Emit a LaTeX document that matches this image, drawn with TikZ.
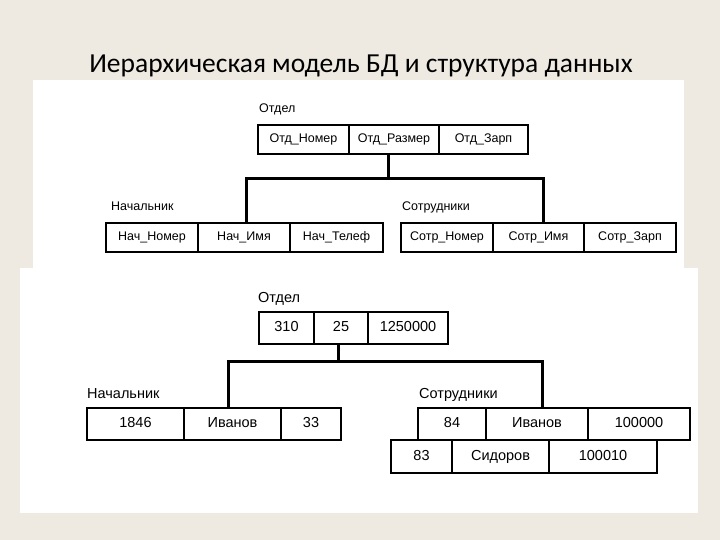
\documentclass[tikz,border=0pt]{standalone}
\usepackage{fontspec}
\setmainfont{Liberation Sans}
\newfontfamily\titlefont{Carlito}
\usetikzlibrary{positioning}
\definecolor{slidebg}{HTML}{EEEAE1}
\tikzset{
  cell/.style={draw, line width=1.6pt, outer sep=0pt, inner sep=0pt, minimum height=29, text height=9pt, text depth=2.5pt, font=\fontsize{12.5}{14}\selectfont},
  bigcell/.style={cell, minimum height=32, text height=10.5pt, text depth=3pt, font=\fontsize{14.5}{16}\selectfont},
  bus/.style={line width=3pt},
  tname/.style={anchor=base west, inner sep=0pt, font=\fontsize{12.5}{14}\selectfont},
  bigtname/.style={tname, font=\fontsize{14.5}{16}\selectfont}
}
\begin{document}
\begin{tikzpicture}[x=1pt,y=-1pt]
\useasboundingbox (0,0) rectangle (720,540);
\fill[slidebg] (0,0) rectangle (720,540);
\fill[white] (33,80) rectangle (684,268);
\fill[white] (20,268) rectangle (698,513);
\node[font=\titlefont\fontsize{27.5}{31}\selectfont, anchor=base] (title) at (361,73) {Иерархическая модель БД и структура данных};
% structure
\def\yA{125};
\def\yB{223};
\node[tname] (otdA) at (259,113) {Отдел};
\node[cell, minimum width=91, anchor=north west] (onom) at (258,\yA) {Отд\_Номер};
\node[cell, minimum width=90, right=0pt of onom] (orazm) {Отд\_Размер};
\node[cell, minimum width=89, right=0pt of orazm] (ozarp) {Отд\_Зарп};
\node[tname] (nachA) at (111,211) {Начальник};
\node[cell, minimum width=92, anchor=north west] (nnom) at (106,\yB) {Нач\_Номер};
\node[cell, minimum width=92, right=0pt of nnom] (nimya) {Нач\_Имя};
\node[cell, minimum width=93, right=0pt of nimya] (ntel) {Нач\_Телеф};
\node[tname] (sotrA) at (402,211) {Сотрудники};
\node[cell, minimum width=92, anchor=north west] (snom) at (401,\yB) {Сотр\_Номер};
\node[cell, minimum width=91, right=0pt of snom] (simya) {Сотр\_Имя};
\node[cell, minimum width=92, right=0pt of simya] (szarp) {Сотр\_Зарп};
\coordinate (busA) at (388,179);
\draw[bus] ([xshift=-6]orazm.south) -- (busA);
\draw[bus] ([xshift=2]nimya.north) |- (busA) -| ([xshift=4.5]simya.north);
% data
\def\yC{312};
\def\yD{408};
\node[bigtname] (otdB) at (258,302) {Отдел};
\node[bigcell, minimum width=55, anchor=north west] (v310) at (259,\yC) {310};
\node[bigcell, minimum width=54, right=0pt of v310] (v25) {25};
\node[bigcell, minimum width=80, right=0pt of v25] (v125) {1250000};
\node[bigtname] (nachB) at (87,398) {Начальник};
\node[bigcell, minimum width=97, anchor=north west] (n1846) at (87,\yD) {1846};
\node[bigcell, minimum width=97, right=0pt of n1846] (nivan) {Иванов};
\node[bigcell, minimum width=60, right=0pt of nivan] (n33) {33};
\node[bigtname] (sotrB) at (419,398) {Сотрудники};
\node[bigcell, minimum width=68, anchor=north west] (s84) at (418,\yD) {84};
\node[bigcell, minimum width=102, right=0pt of s84] (sivan) {Иванов};
\node[bigcell, minimum width=102, right=0pt of sivan] (s100k) {100000};
\node[bigcell, minimum width=61, minimum height=33, anchor=north west] (s83) at (391,440) {83};
\node[bigcell, minimum width=97, minimum height=33, right=0pt of s83] (ssid) {Сидоров};
\node[bigcell, minimum width=108, minimum height=33, right=0pt of ssid] (s100x) {100010};
\coordinate (busB) at (338,361);
\draw[bus] ([xshift=-3]v25.south) -- (busB);
\draw[bus] ([xshift=-4.5]nivan.north) |- (busB) -| ([xshift=5]sivan.north);
\end{tikzpicture}
\end{document}
